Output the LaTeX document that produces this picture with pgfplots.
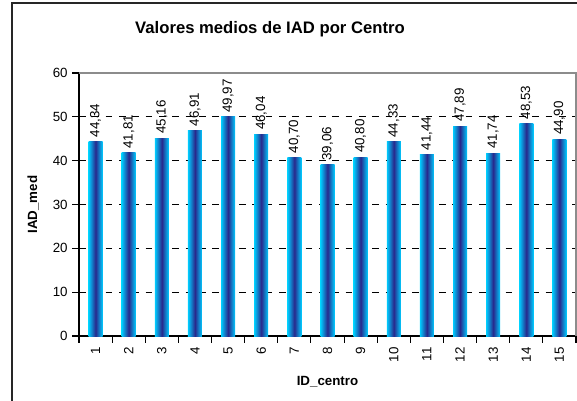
\documentclass[border=0pt]{standalone}
\usepackage{pgfplots}
\pgfplotsset{compat=1.18}
\usepackage{fontspec}
\setmainfont{Liberation Sans}
\definecolor{barcyan}{RGB}{0,204,255}
\definecolor{barnavy}{RGB}{40,40,140}
\newcommand{\onebar}[2]{%
\addplot[ybar, bar width=10.5pt, bar shift=0pt, draw=none,
  left color=barcyan, right color=barcyan, middle color=barnavy,
  nodes near coords={\pgfmathprintnumber[fixed,fixed zerofill,precision=2,use comma]{\pgfplotspointmeta}},
  every node near coord/.append style={rotate=90, anchor=west, font=\fontsize{10}{12}\selectfont, inner sep=3pt, black, shade=false, fill=none},
] coordinates {(#1,#2)};}
\begin{document}
\begin{tikzpicture}
\useasboundingbox (0,0) rectangle (432.75pt,300pt);
\draw[black!85, line width=1.1pt] (9pt,-10pt) -- (9pt,297.75pt) -- (450pt,297.75pt);
\node[font=\fontsize{12.5}{15}\selectfont\bfseries] at (202.5pt,278.25pt) {Valores medios de IAD por Centro};
\begin{axis}[
  at={(59.25pt,48pt)}, anchor=south west,
  scale only axis, width=372.75pt, height=197.25pt,
  xmin=0.5, xmax=15.5, ymin=0, ymax=60,
  axis lines*=left, axis line style={black, line width=0.8pt, -},
  ytick={0,10,...,60},
  xtick={1,...,15},
  minor xtick={0.5,1.5,...,15.5},
  major x tick style={draw=none},
  minor x tick style={black, line width=0.8pt},
  y tick style={black, line width=0.8pt},
  tick align=outside, major tick length=5pt, minor tick length=5pt,
  ymajorgrids, major grid style={black, dash pattern=on 5pt off 5pt, line width=0.6pt},
  xticklabel style={rotate=90, anchor=east},
  ticklabel style={font=\fontsize{10}{12}\selectfont},
  /pgf/number format/assume math mode=true,
  every axis y label/.style={at={(rel axis cs:0,0.5)}, xshift=-34.5pt, rotate=90, anchor=center},
  every axis x label/.style={at={(rel axis cs:0.5,0)}, yshift=-34.5pt, anchor=center},
  label style={font=\fontsize{10}{12}\selectfont\bfseries},
  ylabel={IAD\_med}, xlabel={ID\_centro},
  clip=false,
]
\draw[black!45, line width=1pt] (rel axis cs:0,1) -- (rel axis cs:1,1) -- (rel axis cs:1,0);
\onebar{1}{44.34}
\onebar{2}{41.81}
\onebar{3}{45.16}
\onebar{4}{46.91}
\onebar{5}{49.97}
\onebar{6}{46.04}
\onebar{7}{40.70}
\onebar{8}{39.06}
\onebar{9}{40.80}
\onebar{10}{44.33}
\onebar{11}{41.44}
\onebar{12}{47.89}
\onebar{13}{41.74}
\onebar{14}{48.53}
\onebar{15}{44.90}
\end{axis}
\end{tikzpicture}
\end{document}
